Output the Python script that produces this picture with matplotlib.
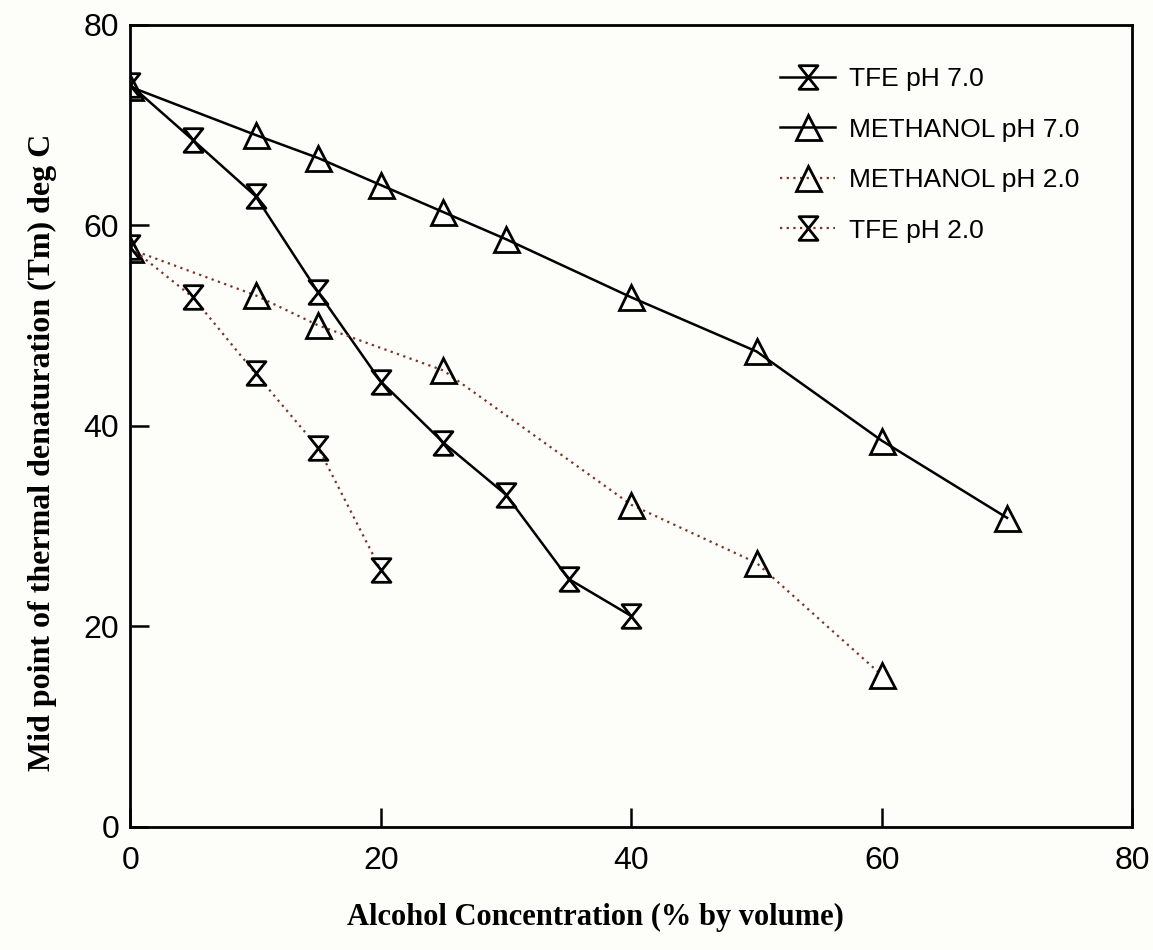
import matplotlib
matplotlib.use("Agg")
import matplotlib.pyplot as plt
from matplotlib.path import Path

# Alcohol concentration (% by volume) and Tm (deg C) for each series
tfe7_x = [0, 5, 10, 15, 20, 25, 30, 35, 40]
tfe7_y = [74.0, 68.5, 62.9, 53.3, 44.4, 38.3, 33.1, 24.7, 21.0]

meoh7_x = [0, 10, 15, 20, 25, 30, 40, 50, 60, 70]
meoh7_y = [73.8, 69.0, 66.7, 64.0, 61.3, 58.6, 52.8, 47.4, 38.5, 30.8]

meoh2_x = [0, 10, 15, 25, 40, 50, 60]
meoh2_y = [57.6, 53.0, 50.0, 45.5, 32.1, 26.3, 15.1]

tfe2_x = [0, 5, 10, 15, 20]
tfe2_y = [57.8, 52.8, 45.2, 37.8, 25.6]

labels = ["TFE pH 7.0", "METHANOL pH 7.0", "METHANOL pH 2.0", "TFE pH 2.0"]

# hourglass marker: two triangles meeting at the middle, open
hourglass = Path([(-0.8, 1), (0.8, 1), (-0.8, -1), (0.8, -1), (-0.8, 1)],
                 [Path.MOVETO, Path.LINETO, Path.LINETO, Path.LINETO, Path.CLOSEPOLY])

dot_col = "#7a3328"

fig = plt.figure(figsize=(11.53, 9.5), dpi=100)
fig.patch.set_facecolor("#fdfdfa")
ax = fig.add_axes([0.113, 0.13, 0.869, 0.844])
ax.set_facecolor("#fdfdfa")

ax.plot(tfe7_x, tfe7_y, color="black", lw=1.8, marker=hourglass, ms=17,
        mfc="none", mec="black", mew=2, label=labels[0])
ax.plot(meoh7_x, meoh7_y, color="black", lw=1.8, marker="^", ms=18,
        mfc="none", mec="black", mew=2, label=labels[1])
ax.plot(meoh2_x, meoh2_y, color=dot_col, lw=1.6, ls=(0, (1, 2)), marker="^", ms=18,
        mfc="none", mec="black", mew=2, label=labels[2])
ax.plot(tfe2_x, tfe2_y, color=dot_col, lw=1.6, ls=(0, (1, 2)), marker=hourglass, ms=17,
        mfc="none", mec="black", mew=2, label=labels[3])

ax.set_xlim(0, 80)
ax.set_ylim(0, 80)
ax.set_xticks([0, 20, 40, 60, 80])
ax.set_yticks([0, 20, 40, 60, 80])
ax.tick_params(axis="both", direction="in", length=14, width=1.8,
               labelsize=23, labelfontfamily="Liberation Sans")
ax.tick_params(axis="x", pad=14)
ax.tick_params(axis="y", pad=8)
for s in ax.spines.values():
    s.set_linewidth(2)

ax.set_xlabel("Alcohol Concentration (% by volume)", fontsize=22, fontweight="bold",
              family="Liberation Serif")
ax.set_ylabel("Mid point of thermal denaturation (Tm) deg C", fontsize=23,
              fontweight="bold", family="Liberation Serif")
ax.xaxis.set_label_coords(0.464, -0.095)
ax.yaxis.set_label_coords(-0.073, 0.467)

leg = ax.legend(loc="upper left", bbox_to_anchor=(0.665, 0.943), bbox_transform=fig.transFigure,
                frameon=False, handlelength=2.1, labelspacing=1.0,
                borderpad=0, handletextpad=0.5, prop={"family": "Liberation Sans", "size": 19})

fig.savefig("out.png", dpi=100, facecolor=fig.get_facecolor())
